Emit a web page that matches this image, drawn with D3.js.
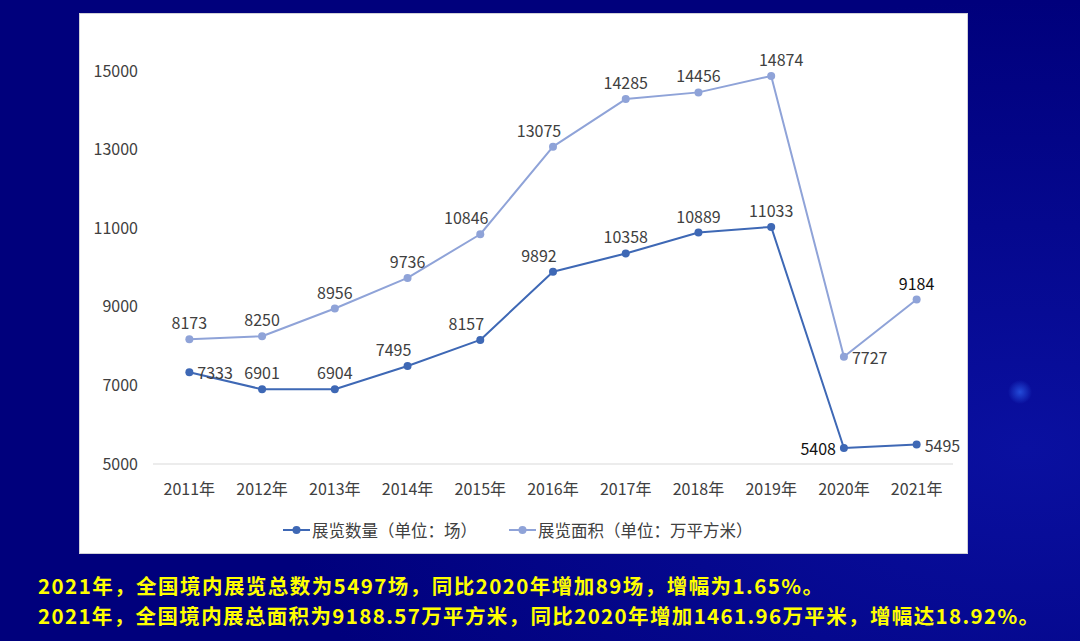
<!DOCTYPE html>
<html>
<head>
<meta charset="utf-8">
<script src="https://cdn.jsdelivr.net/npm/d3@7"></script>
<style>
  html, body { margin: 0; padding: 0; }
  body { width: 1080px; height: 641px; overflow: hidden; background: #000080; }
  svg { display: block; }
</style>
</head>
<body>
<svg id="chart" width="1080" height="641"></svg>
<script>
// dados
var years = ["2011年", "2012年", "2013年", "2014年", "2015年", "2016年", "2017年", "2018年", "2019年", "2020年", "2021年"];
var countValues = [7333, 6901, 6904, 7495, 8157, 9892, 10358, 10889, 11033, 5408, 5495];
var areaValues = [8173, 8250, 8956, 9736, 10846, 13075, 14285, 14456, 14874, 7727, 9184];
var yTicks = [5000, 7000, 9000, 11000, 13000, 15000];
var seriesNames = ["展览数量（单位：场）", "展览面积（单位：万平方米）"];
var notes = [
  "2021年，全国境内展览总数为5497场，同比2020年增加89场，增幅为1.65%。",
  "2021年，全国境内展总面积为9188.57万平方米，同比2020年增加1461.96万平米，增幅达18.92%。"
];

// posição de cada rótulo em relação ao ponto
var countLabelPos = ["right", "above", "above", "aboveLeft", "aboveLeft", "aboveLeft", "above", "above", "above", "left", "right"];
var areaLabelPos = ["above", "above", "above", "above", "aboveLeft", "aboveLeft", "above", "above", "aboveRight", "right", "above"];

var darkBlue = "#3e68b5";
var lightBlue = "#8fa3d8";
var font = "'Noto Sans CJK SC', 'Noto Sans', sans-serif";

var svg = d3.select("#chart");

// fundo azul escuro com leve brilho
var defs = svg.append("defs");
var bg = defs.append("radialGradient").attr("id", "bg")
  .attr("cx", "95%").attr("cy", "70%").attr("r", "70%");
bg.append("stop").attr("offset", "0%").attr("stop-color", "#0a10a0");
bg.append("stop").attr("offset", "100%").attr("stop-color", "#00007c");
svg.append("rect").attr("width", 1080).attr("height", 641).attr("fill", "url(#bg)");

var glow = defs.append("radialGradient").attr("id", "glow");
glow.append("stop").attr("offset", "0%").attr("stop-color", "#2a5ae8").attr("stop-opacity", 0.8);
glow.append("stop").attr("offset", "100%").attr("stop-color", "#2a5ae8").attr("stop-opacity", 0);
svg.append("circle").attr("cx", 1020).attr("cy", 392).attr("r", 12).attr("fill", "url(#glow)");

// painel branco
svg.append("rect")
  .attr("x", 79.5).attr("y", 13.5).attr("width", 888).attr("height", 540)
  .attr("fill", "#ffffff").attr("stroke", "#d0d0d8");

var x = d3.scaleBand().domain(years).range([153, 953]);
var y = d3.scaleLinear().domain([5000, 16000]).range([464, 31.7]);
var cx = function (d, i) { return x(years[i]) + x.bandwidth() / 2; };

// linha de base
svg.append("line")
  .attr("x1", 153).attr("x2", 953)
  .attr("y1", y(5000)).attr("y2", y(5000))
  .attr("stroke", "#d9d9d9").attr("stroke-width", 1);

// eixo y
var yAxis = svg.append("g")
  .attr("transform", "translate(138,0)")
  .call(d3.axisLeft(y).tickValues(yTicks).tickFormat(d3.format("d")).tickSize(0).tickPadding(0));
yAxis.select(".domain").remove();
yAxis.selectAll("text")
  .attr("font-family", font).attr("font-size", 16).attr("fill", "#404040");

// eixo x
var xAxis = svg.append("g")
  .attr("transform", "translate(0," + y(5000) + ")")
  .call(d3.axisBottom(x).tickSize(0).tickPadding(20));
xAxis.select(".domain").remove();
xAxis.selectAll("text")
  .attr("font-family", font).attr("font-size", 16).attr("fill", "#404040");

var line = d3.line()
  .x(cx)
  .y(function (d) { return y(d); });

function drawSeries(values, color, positions, darkIdx) {
  svg.append("path")
    .datum(values)
    .attr("d", line)
    .attr("fill", "none")
    .attr("stroke", color)
    .attr("stroke-width", 2)
    .attr("stroke-linejoin", "round");

  svg.append("g").selectAll("circle")
    .data(values)
    .enter()
    .append("circle")
    .attr("cx", cx)
    .attr("cy", function (d) { return y(d); })
    .attr("r", 4)
    .attr("fill", color);

  svg.append("g").selectAll("text")
    .data(values)
    .enter()
    .append("text")
    .attr("x", function (d, i) {
      var p = positions[i];
      var base = cx(d, i);
      if (p === "right") return base + 8;
      if (p === "left") return base - 8;
      if (p === "aboveLeft") return base - 14;
      if (p === "aboveRight") return base + 10;
      return base;
    })
    .attr("y", function (d, i) {
      var p = positions[i];
      if (p === "right" || p === "left") return y(d);
      return y(d) - 17;
    })
    .attr("text-anchor", function (d, i) {
      var p = positions[i];
      if (p === "right") return "start";
      if (p === "left") return "end";
      return "middle";
    })
    .attr("dominant-baseline", "central")
    .attr("font-family", font)
    .attr("font-size", 16)
    .attr("fill", function (d, i) { return darkIdx.indexOf(i) >= 0 ? "#111111" : "#404040"; })
    .text(function (d) { return d; });
}

drawSeries(areaValues, lightBlue, areaLabelPos, [10]);
drawSeries(countValues, darkBlue, countLabelPos, [9]);

// legenda
var legendItems = [
  { name: seriesNames[0], color: darkBlue, x: 283 },
  { name: seriesNames[1], color: lightBlue, x: 509 }
];
var legend = svg.append("g").selectAll("g")
  .data(legendItems)
  .enter()
  .append("g")
  .attr("transform", function (d) { return "translate(" + d.x + ",530)"; });
legend.append("line")
  .attr("x1", 0).attr("x2", 27).attr("y1", 0).attr("y2", 0)
  .attr("stroke", function (d) { return d.color; }).attr("stroke-width", 2);
legend.append("circle")
  .attr("cx", 13.5).attr("cy", 0).attr("r", 4)
  .attr("fill", function (d) { return d.color; });
legend.append("text")
  .attr("x", 29).attr("y", 0)
  .attr("dominant-baseline", "central")
  .attr("font-family", font).attr("font-size", 16.5).attr("fill", "#404040")
  .text(function (d) { return d.name; });

// texto amarelo abaixo do painel
var noteWidths = [785, 1001];
svg.append("g").selectAll("text")
  .data(notes)
  .enter()
  .append("text")
  .attr("x", 38)
  .attr("y", function (d, i) { return 585 + i * 30; })
  .attr("dominant-baseline", "central")
  .attr("font-family", font)
  .attr("font-size", 20.5)
  .attr("font-weight", "bold")
  .attr("fill", "#ffff00")
  .attr("textLength", function (d, i) { return noteWidths[i]; })
  .attr("lengthAdjust", "spacing")
  .text(function (d) { return d; });
</script>
</body>
</html>
